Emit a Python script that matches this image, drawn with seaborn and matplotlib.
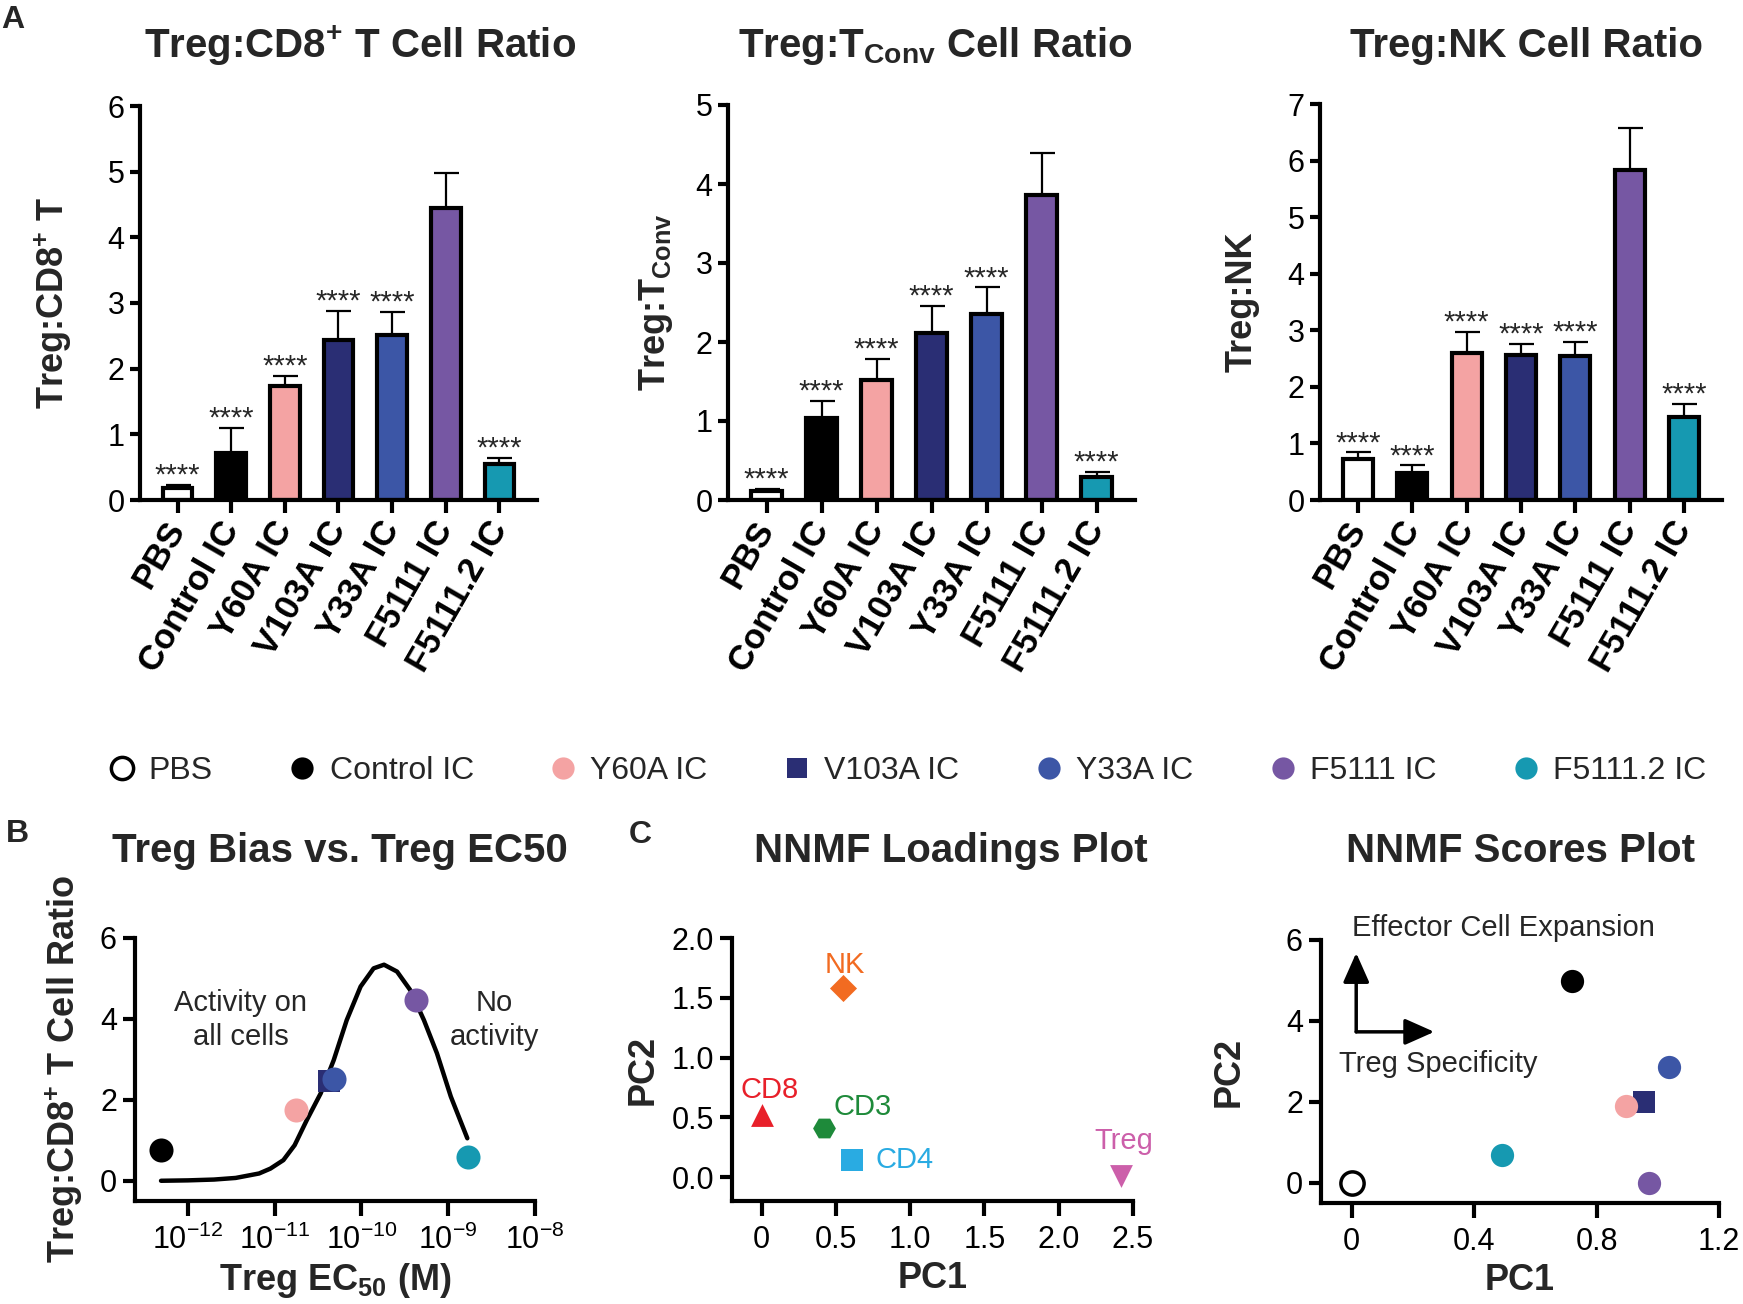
import numpy as np
import matplotlib
matplotlib.use("Agg")
import matplotlib.pyplot as plt
from matplotlib.lines import Line2D
from matplotlib.ticker import NullLocator
import seaborn as sns

# groups / colours shared by all panels
groups = ['PBS', 'Control IC', 'Y60A IC', 'V103A IC', 'Y33A IC', 'F5111 IC', 'F5111.2 IC']
group_colors = ['#FFFFFF', '#000000', '#F4A3A3', '#2A2E74', '#3C56A6', '#7657A3', '#1699B1']
group_markers = ['o', 'o', 'o', 's', 'o', 'o', 'o']

# panel A: mean ratio and SEM
cd8_mean = [0.18, 0.72, 1.73, 2.43, 2.51, 4.45, 0.55]
cd8_sem = [0.05, 0.37, 0.16, 0.45, 0.35, 0.53, 0.09]
tconv_mean = [0.11, 1.04, 1.52, 2.11, 2.35, 3.86, 0.29]
tconv_sem = [0.03, 0.21, 0.26, 0.34, 0.34, 0.53, 0.06]
nk_mean = [0.73, 0.48, 2.59, 2.56, 2.54, 5.83, 1.46]
nk_sem = [0.11, 0.13, 0.38, 0.19, 0.25, 0.74, 0.23]
stars = ['****', '****', '****', '****', '****', '', '****']

# panel B: Treg EC50 vs Treg:CD8 ratio
ec50_groups = ['Control IC', 'Y60A IC', 'V103A IC', 'Y33A IC', 'F5111 IC', 'F5111.2 IC']
ec50_M = [4.9e-13, 1.74e-11, 4.2e-11, 4.8e-11, 4.3e-10, 1.7e-9]
ec50_ratio = [0.75, 1.74, 2.47, 2.52, 4.46, 0.58]
# fitted curve (log10 M, ratio)
curve_log_ec50 = [-12.31, -12.0, -11.7, -11.45, -11.18, -11.05, -10.90, -10.77, -10.63, -10.47,
                  -10.32, -10.17, -10.01, -9.86, -9.74, -9.59, -9.44, -9.28, -9.13, -8.97, -8.78]
curve_ratio = [0.0, 0.01, 0.03, 0.07, 0.18, 0.30, 0.51, 0.88, 1.50, 2.16,
               2.98, 3.97, 4.80, 5.25, 5.34, 5.17, 4.72, 3.97, 3.15, 2.08, 1.05]

# panel C: NNMF loadings and scores
cells = ['CD8', 'CD3', 'CD4', 'NK', 'Treg']
load_pc1 = [0.0, 0.42, 0.61, 0.55, 2.42]
load_pc2 = [0.52, 0.41, 0.14, 1.58, 0.01]
cell_colors = ['#E8202A', '#1E8A3A', '#29ABE2', '#F26B21', '#CC5FAA']
cell_markers = ['^', 'H', 's', 'D', 'v']
cell_label_offsets = [(6, 18), (28, 15), (17, 0), (1, 17), (2, 25)]
cell_label_ha = ['center', 'center', 'left', 'center', 'center']

score_pc1 = [0.0, 0.72, 0.897, 0.954, 1.036, 0.97, 0.49]
score_pc2 = [0.0, 4.99, 1.89, 2.0, 2.85, 0.0, 0.69]

sns.set_style('ticks')
plt.rcParams['font.family'] = ['Liberation Sans', 'DejaVu Sans']
plt.rcParams['mathtext.fontset'] = 'custom'
plt.rcParams['mathtext.rm'] = 'Liberation Sans'
plt.rcParams['mathtext.bf'] = 'Liberation Sans:bold'
plt.rcParams['mathtext.default'] = 'regular'
plt.rcParams['axes.linewidth'] = 3
plt.rcParams['xtick.major.width'] = 3
plt.rcParams['ytick.major.width'] = 3
plt.rcParams['xtick.labelsize'] = 22
plt.rcParams['ytick.labelsize'] = 22
plt.rcParams['xtick.color'] = 'black'
plt.rcParams['ytick.color'] = 'black'
plt.rcParams['axes.edgecolor'] = 'black'

W, H = 1743, 1304
fig = plt.figure(figsize=(W / 100, H / 100), dpi=100)


def add_ax(l, t, r, b):
    return fig.add_axes([l / W, 1 - b / H, (r - l) / W, (b - t) / H])


def bar_panel(ax, means, sems, ymax, ylabel, ylab_x):
    sns.barplot(x=groups, y=means, hue=groups, palette=group_colors, legend=False,
                width=0.55, saturation=1, edgecolor='black', linewidth=3, ax=ax)
    ax.errorbar(np.arange(len(groups)), means, yerr=[np.zeros(len(groups)), sems],
                fmt='none', ecolor='black', elinewidth=1.6, capsize=9, capthick=1.6, zorder=0.5)
    for i, (m, s, st) in enumerate(zip(means, sems, stars)):
        if st:
            ax.annotate(st, (i, m + s), xytext=(0, 1), textcoords='offset points',
                        ha='center', va='baseline', fontsize=21)
    ax.set_xlim(-0.7, 6.7)
    ax.set_ylim(0, ymax)
    ax.set_yticks(range(ymax + 1))
    ax.set_xticks(range(len(groups)))
    ax.set_xticklabels(groups, rotation=60, ha='right', va='center', rotation_mode='anchor',
                       fontweight='bold', fontsize=25)
    ax.tick_params(axis='x', length=9, pad=8)
    ax.tick_params(axis='y', length=7, pad=4)
    ax.set_xlabel('')
    ax.set_ylabel(ylabel, fontsize=26, fontweight='bold')
    ax.yaxis.set_label_coords(ylab_x, 0.5)
    sns.despine(ax=ax)


ax1 = add_ax(140, 106, 537, 500)
bar_panel(ax1, cd8_mean, cd8_sem, 6, 'Treg:CD8$^{+}$ T', -0.165)
ax2 = add_ax(728, 105, 1135, 500)
bar_panel(ax2, tconv_mean, tconv_sem, 5, 'Treg:T$_{Conv}$', -0.13)
ax3 = add_ax(1320, 104, 1722, 500)
bar_panel(ax3, nk_mean, nk_sem, 7, 'Treg:NK', -0.15)

for x, txt in [(360, 'Treg:CD8$^{+}$ T Cell Ratio'), (935, 'Treg:T$_{Conv}$ Cell Ratio'),
               (1526, 'Treg:NK Cell Ratio'), ]:
    fig.text(x / W, 1 - 46 / H, txt, ha='center', va='center', fontsize=29, fontweight='bold')
for x, txt in [(340, 'Treg Bias vs. Treg EC50'), (951, 'NNMF Loadings Plot'),
               (1521, 'NNMF Scores Plot')]:
    fig.text(x / W, 1 - 851 / H, txt, ha='center', va='center', fontsize=29, fontweight='bold')
for x, y, txt in [(13, 20, 'A'), (17, 834, 'B'), (640, 835, 'C')]:
    fig.text(x / W, 1 - y / H, txt, ha='center', va='center', fontsize=23, fontweight='bold')


def group_style(g):
    i = groups.index(g)
    face = group_colors[i]
    edge = 'black' if g == 'PBS' else face
    lw = 2.5 if g == 'PBS' else 0
    return face, edge, lw, group_markers[i]


# panel B
axb = add_ax(135, 938, 535, 1201)
axb.set_xscale('log')
sns.lineplot(x=10 ** np.array(curve_log_ec50), y=curve_ratio, color='black', lw=3.2, ax=axb)
for g in ['Control IC', 'Y60A IC', 'V103A IC', 'Y33A IC', 'F5111 IC', 'F5111.2 IC']:
    i = ec50_groups.index(g)
    face, edge, lw, mk = group_style(g)
    sns.scatterplot(x=[ec50_M[i]], y=[ec50_ratio[i]], color=face, edgecolor=edge, linewidth=lw,
                    marker=mk, s=300 if mk == 'o' else 260, ax=axb, zorder=3)
axb.set_xlim(10 ** -12.61, 1e-8)
axb.set_ylim(-0.5, 6)
axb.set_xticks([1e-12, 1e-11, 1e-10, 1e-9, 1e-8])
axb.xaxis.set_minor_locator(NullLocator())
axb.set_yticks([0, 2, 4, 6])
axb.tick_params(axis='x', length=11, pad=6)
axb.tick_params(axis='y', length=9, pad=4)
axb.set_xlabel('Treg EC$_{50}$ (M)', fontsize=26, fontweight='bold')
axb.set_ylabel('Treg:CD8$^{+}$ T Cell Ratio', fontsize=26, fontweight='bold')
axb.xaxis.set_label_coords(0.5, -0.23)
axb.yaxis.set_label_coords(-0.125, 0.5)
axb.text(10 ** -11.39, 3.97, 'Activity on\nall cells', ha='center', va='center', fontsize=21,
         linespacing=1.3)
axb.text(10 ** -8.47, 3.97, 'No\nactivity', ha='center', va='center', fontsize=21,
         linespacing=1.3, clip_on=False)
sns.despine(ax=axb)

# panel C loadings
axl = add_ax(732, 938, 1133, 1201)
for i, c in enumerate(cells):
    sns.scatterplot(x=[load_pc1[i]], y=[load_pc2[i]], color=cell_colors[i], marker=cell_markers[i],
                    s=190 if cell_markers[i] == 'D' else 270, linewidth=0, ax=axl, zorder=3)
    axl.annotate(c, (load_pc1[i], load_pc2[i]), xytext=cell_label_offsets[i],
                 textcoords='offset points', ha=cell_label_ha[i], va='center', fontsize=21,
                 color=cell_colors[i])
axl.set_xlim(-0.2, 2.5)
axl.set_ylim(-0.2, 2.0)
axl.set_xticks([0, 0.5, 1.0, 1.5, 2.0, 2.5])
axl.set_xticklabels(['0', '0.5', '1.0', '1.5', '2.0', '2.5'])
axl.set_yticks([0, 0.5, 1.0, 1.5, 2.0])
axl.set_yticklabels(['0.0', '0.5', '1.0', '1.5', '2.0'])
axl.tick_params(axis='x', length=11, pad=6)
axl.tick_params(axis='y', length=9, pad=4)
axl.set_xlabel('PC1', fontsize=26, fontweight='bold')
axl.set_ylabel('PC2', fontsize=26, fontweight='bold')
axl.xaxis.set_label_coords(0.5, -0.23)
axl.yaxis.set_label_coords(-0.177, 0.5)
sns.despine(ax=axl)

# panel C scores
axs = add_ax(1321, 940, 1719, 1203)
for g in ['PBS', 'Control IC', 'F5111.2 IC', 'V103A IC', 'Y60A IC', 'Y33A IC', 'F5111 IC']:
    i = groups.index(g)
    face, edge, lw, mk = group_style(g)
    sns.scatterplot(x=[score_pc1[i]], y=[score_pc2[i]], color=face, edgecolor=edge, linewidth=lw,
                    marker=mk, s=280 if mk == 'o' else 250, ax=axs, zorder=3, clip_on=False)
arrow = dict(arrowstyle='-|>,head_length=0.9,head_width=0.4', color='black', lw=2.5,
             shrinkA=0, shrinkB=0, mutation_scale=20)
axs.annotate('', xy=(0.015, 5.68), xytext=(0.015, 3.73), arrowprops=arrow)
axs.annotate('', xy=(0.27, 3.73), xytext=(0.015, 3.73), arrowprops=arrow)
axs.text(0.0, 6.3, 'Effector Cell Expansion', ha='left', va='center', fontsize=21, clip_on=False)
axs.text(-0.04, 2.94, 'Treg Specificity', ha='left', va='center', fontsize=21)
axs.set_xlim(-0.1, 1.2)
axs.set_ylim(-0.5, 6)
axs.set_xticks([0, 0.4, 0.8, 1.2])
axs.set_xticklabels(['0', '0.4', '0.8', '1.2'])
axs.set_yticks([0, 2, 4, 6])
axs.tick_params(axis='x', length=11, pad=6)
axs.tick_params(axis='y', length=9, pad=4)
axs.set_xlabel('PC1', fontsize=26, fontweight='bold')
axs.set_ylabel('PC2', fontsize=26, fontweight='bold')
axs.xaxis.set_label_coords(0.5, -0.23)
axs.yaxis.set_label_coords(-0.186, 0.5)
sns.despine(ax=axs)

# shared legend
handles = []
for g in groups:
    face, edge, lw, mk = group_style(g)
    handles.append(Line2D([], [], linestyle='none', marker=mk, markersize=16 if mk == 'o' else 15,
                          markerfacecolor=face, markeredgecolor=edge, markeredgewidth=lw))
fig.legend(handles, groups, loc='center', bbox_to_anchor=(906 / W, 1 - 771 / H), ncol=7,
           frameon=False, fontsize=23, handlelength=1.0, handletextpad=0.35, columnspacing=2.3)

fig.savefig('out.png', dpi=100)
